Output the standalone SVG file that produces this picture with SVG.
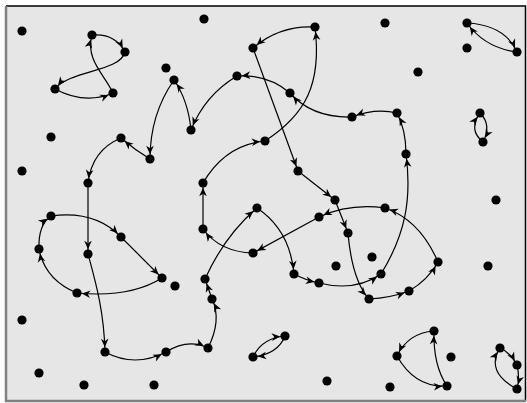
<svg xmlns="http://www.w3.org/2000/svg" width="527" height="403" viewBox="0 0 527 403">
<style>
.n{fill:#000}
.e path{fill:none;stroke:#000;stroke-width:1.2;marker-end:url(#a)}
</style>
<defs>
<marker id="a" markerUnits="userSpaceOnUse" viewBox="0 0 20 10" markerWidth="20" markerHeight="10" refX="16.8" refY="5" orient="auto" overflow="visible">
<path d="M3.5,1.2 L12,5 L3.5,8.8 L6,5 z" fill="#000"/>
</marker>
</defs>
<rect x="6" y="6" width="520" height="395" fill="#e6e6e6"/>
<path d="M6,6 H525.5 V401" fill="none" stroke="#000" stroke-width="1.5"/>
<path d="M6,6 V401 H526" fill="none" stroke="#808080" stroke-width="2.5"/>
<g id="edges" class="e">
<path d="M92,35 Q115,33 125,52"/>
<path d="M125,52 C120,72 70,70 55,89"/>
<path d="M55,89 Q85,105 113,93"/>
<path d="M113,93 C105,75 85,60 92,35"/>
<path d="M174,80 C160,100 150,125 150,159"/>
<path d="M150,159 Q135,150 121,138"/>
<path d="M121,138 Q92,150 88,183"/>
<path d="M88,183 L88,254"/>
<path d="M88,254 C95,280 104,310 105,352"/>
<path d="M105,352 Q135,368 166,352"/>
<path d="M166,352 Q188,338 208,348"/>
<path d="M208,348 Q222,320 212,299"/>
<path d="M212,299 L205,279"/>
<path d="M205,279 Q225,235 257,208"/>
<path d="M257,208 Q290,230 294,274"/>
<path d="M294,274 Q305,280 319,283"/>
<path d="M319,283 Q355,292 381,274"/>
<path d="M381,274 C405,235 412,200 406,154"/>
<path d="M406,154 Q406,130 397,113"/>
<path d="M397,113 Q375,108 352,117"/>
<path d="M352,117 Q312,118 290,93"/>
<path d="M290,93 Q268,74 237,76"/>
<path d="M237,76 Q205,95 191,130"/>
<path d="M191,130 Q188,100 174,80"/>
<path d="M265,141 C305,115 322,85 315,27"/>
<path d="M315,27 Q280,25 253,48"/>
<path d="M253,48 L298,171"/>
<path d="M298,171 L335,200"/>
<path d="M335,200 L348,233"/>
<path d="M348,233 Q352,280 369,299"/>
<path d="M369,299 Q390,298 409,291"/>
<path d="M409,291 Q428,280 438,262"/>
<path d="M438,262 Q420,220 385,208"/>
<path d="M385,208 Q350,203 319,217"/>
<path d="M319,217 L253,253"/>
<path d="M253,253 Q220,252 203,229"/>
<path d="M203,229 L203,183"/>
<path d="M203,183 Q225,145 265,141"/>
<path d="M51,216 Q95,210 121,237"/>
<path d="M121,237 L162,278"/>
<path d="M162,278 Q130,298 77,293"/>
<path d="M77,293 Q45,280 39,249"/>
<path d="M39,249 Q38,225 51,216"/>
<path d="M467,23 Q505,25 517,52"/>
<path d="M517,52 Q485,48 467,23"/>
<path d="M480,113 Q492,125 483,142"/>
<path d="M483,142 Q468,130 480,113"/>
<path d="M253,357 Q262,338 285,336"/>
<path d="M285,336 Q278,354 253,357"/>
<path d="M434,331 Q408,333 397,356"/>
<path d="M397,356 Q415,388 447,386"/>
<path d="M447,386 Q433,365 434,331"/>
<path d="M500,348 Q510,352 517,365"/>
<path d="M517,365 Q520,377 517,389"/>
<path d="M517,389 Q485,372 500,348"/>
</g>
<g id="nodes" class="n">
<circle id="n1" cx="22" cy="31" r="4.6"/>
<circle id="n2" cx="92" cy="35" r="4.6"/>
<circle id="n3" cx="125" cy="52" r="4.6"/>
<circle id="n4" cx="55" cy="89" r="4.6"/>
<circle id="n5" cx="113" cy="93" r="4.6"/>
<circle id="n6" cx="166" cy="68" r="4.6"/>
<circle id="n7" cx="174" cy="80" r="4.6"/>
<circle id="n8" cx="204" cy="19" r="4.6"/>
<circle id="n9" cx="315" cy="27" r="4.6"/>
<circle id="n10" cx="253" cy="48" r="4.6"/>
<circle id="n11" cx="237" cy="76" r="4.6"/>
<circle id="n12" cx="290" cy="93" r="4.6"/>
<circle id="n13" cx="191" cy="130" r="4.6"/>
<circle id="n14" cx="352" cy="117" r="4.6"/>
<circle id="n15" cx="265" cy="141" r="4.6"/>
<circle id="n16" cx="385" cy="23" r="4.6"/>
<circle id="n17" cx="467" cy="23" r="4.6"/>
<circle id="n18" cx="467" cy="48" r="4.6"/>
<circle id="n19" cx="517" cy="52" r="4.6"/>
<circle id="n20" cx="418" cy="72" r="4.6"/>
<circle id="n21" cx="397" cy="113" r="4.6"/>
<circle id="n22" cx="480" cy="113" r="4.6"/>
<circle id="n23" cx="483" cy="142" r="4.6"/>
<circle id="n24" cx="51" cy="137" r="4.6"/>
<circle id="n25" cx="121" cy="138" r="4.6"/>
<circle id="n26" cx="150" cy="159" r="4.6"/>
<circle id="n27" cx="22" cy="171" r="4.6"/>
<circle id="n28" cx="88" cy="183" r="4.6"/>
<circle id="n29" cx="51" cy="216" r="4.6"/>
<circle id="n30" cx="121" cy="237" r="4.6"/>
<circle id="n31" cx="39" cy="249" r="4.6"/>
<circle id="n32" cx="88" cy="254" r="4.6"/>
<circle id="n33" cx="298" cy="171" r="4.6"/>
<circle id="n34" cx="203" cy="183" r="4.6"/>
<circle id="n35" cx="335" cy="200" r="4.6"/>
<circle id="n36" cx="257" cy="208" r="4.6"/>
<circle id="n37" cx="319" cy="217" r="4.6"/>
<circle id="n38" cx="203" cy="229" r="4.6"/>
<circle id="n39" cx="348" cy="233" r="4.6"/>
<circle id="n40" cx="253" cy="253" r="4.6"/>
<circle id="n41" cx="406" cy="154" r="4.6"/>
<circle id="n42" cx="496" cy="200" r="4.6"/>
<circle id="n43" cx="385" cy="208" r="4.6"/>
<circle id="n44" cx="372" cy="257" r="4.6"/>
<circle id="n45" cx="438" cy="262" r="4.6"/>
<circle id="n46" cx="488" cy="266" r="4.6"/>
<circle id="n47" cx="336" cy="266" r="4.6"/>
<circle id="n48" cx="162" cy="278" r="4.6"/>
<circle id="n49" cx="175" cy="286" r="4.6"/>
<circle id="n50" cx="77" cy="293" r="4.6"/>
<circle id="n51" cx="22" cy="320" r="4.6"/>
<circle id="n52" cx="105" cy="352" r="4.6"/>
<circle id="n53" cx="166" cy="352" r="4.6"/>
<circle id="n54" cx="39" cy="373" r="4.6"/>
<circle id="n55" cx="84" cy="385" r="4.6"/>
<circle id="n56" cx="154" cy="385" r="4.6"/>
<circle id="n57" cx="205" cy="279" r="4.6"/>
<circle id="n58" cx="212" cy="299" r="4.6"/>
<circle id="n59" cx="208" cy="348" r="4.6"/>
<circle id="n60" cx="294" cy="274" r="4.6"/>
<circle id="n61" cx="319" cy="283" r="4.6"/>
<circle id="n62" cx="285" cy="336" r="4.6"/>
<circle id="n63" cx="253" cy="357" r="4.6"/>
<circle id="n64" cx="327" cy="381" r="4.6"/>
<circle id="n65" cx="381" cy="274" r="4.6"/>
<circle id="n66" cx="369" cy="299" r="4.6"/>
<circle id="n67" cx="409" cy="291" r="4.6"/>
<circle id="n68" cx="434" cy="331" r="4.6"/>
<circle id="n69" cx="397" cy="356" r="4.6"/>
<circle id="n70" cx="451" cy="357" r="4.6"/>
<circle id="n71" cx="390" cy="387" r="4.6"/>
<circle id="n72" cx="447" cy="386" r="4.6"/>
<circle id="n73" cx="500" cy="348" r="4.6"/>
<circle id="n74" cx="517" cy="365" r="4.6"/>
<circle id="n75" cx="517" cy="389" r="4.6"/>
</g>
</svg>
